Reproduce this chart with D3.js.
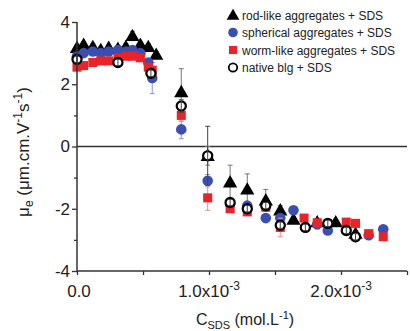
<!DOCTYPE html>
<html><head><meta charset="utf-8">
<script src="https://cdn.jsdelivr.net/npm/d3@7"></script>
<style>body{margin:0;background:#fff}svg{display:block}text{font-family:"Liberation Sans",Arial,sans-serif}</style>
</head><body><svg id="c" width="410" height="331"></svg>
<script>
// concentration in units of 1e-3 mol/L; [c, mu, err]
const rodLike = [[0,3.17,0.1],[0.05,3.27,0.1],[0.12,3.2,0.1],[0.18,3.1,0.1],[0.24,3.17,0.1],[0.31,3.14,0.1],[0.37,3.2,0.1],[0.42,3.55,0.15],[0.48,3.27,0.1],[0.54,3.2,0.1],[0.6,2.95,0.1],
  [0.79,1.75,0.75],[0.99,-0.3,0.3],[1.16,-1.15,0.55],[1.29,-1.38,0.5],[1.43,-1.73,0.35],[1.54,-2.05,0.15],[1.64,-2.35,0.1],[1.82,-2.43,0.1],[1.96,-2.43,0.1],[2.11,-2.8,0.1]];
const spherical = [[0,2.9,0.1],[0.05,3.0,0.1],[0.12,3.05,0.1],[0.18,3.0,0.1],[0.24,3.05,0.1],[0.31,3.1,0.1],[0.37,3.05,0.1],[0.42,3.1,0.1],[0.48,3.0,0.1],[0.54,2.7,0.1],[0.57,2.2,0.5],
  [0.79,0.55,0.3],[0.99,-1.1,0.2],[1.16,-1.85,0.1],[1.29,-1.9,0.1],[1.43,-2.3,0.1],[1.54,-2.3,0.1],[1.64,-2.05,0.1],[1.82,-2.5,0.15],[1.9,-2.7,0.1],[2.21,-2.85,0.1],[2.32,-2.66,0.1]];
const wormLike = [[0,2.55,0.1],[0.05,2.6,0.1],[0.12,2.7,0.1],[0.18,2.75,0.1],[0.24,2.75,0.1],[0.31,2.85,0.1],[0.37,2.9,0.1],[0.42,2.9,0.1],[0.48,2.85,0.1],[0.54,2.55,0.1],[0.57,2.45,0.1],
  [0.79,1.0,0.2],[0.99,-1.65,0.4],[1.16,-2.0,0.1],[1.29,-2.1,0.1],[1.43,-1.95,0.1],[1.54,-2.6,0.3],[1.72,-2.3,0.1],[1.82,-2.45,0.1],[2.04,-2.43,0.1],[2.11,-2.47,0.1],[2.21,-2.8,0.1],[2.32,-2.9,0.1]];
const nativeBlg = [[0,2.8,0.1],[0.31,2.7,0.1],[0.56,2.35,0.1],
  [0.79,1.3,0.2],[0.99,-0.3,0.95],[1.16,-1.8,0.1],[1.29,-2.0,0.1],[1.43,-1.9,0.1],[1.54,-2.53,0.1],[1.73,-2.6,0.1],[1.9,-2.47,0.1],[2.04,-2.7,0.1],[2.11,-2.9,0.1]];
const seriesNames = ["rod-like aggregates + SDS","spherical aggregates + SDS","worm-like aggregates + SDS","native blg + SDS"];
const yTicks = [-4,-2,0,2,4];
const xTicks = [0,1,2];

const svg = d3.select("#c");
const x = d3.scaleLinear().domain([0,2.5]).range([77,407]);
const y = d3.scaleLinear().domain([-4,4]).range([271,22]);
const axisCol = "#333";

const series = [
  {data:rodLike, shape:"tri", fill:"#000", stroke:"none", err:"#777"},
  {data:spherical, shape:"circ", fill:"#3a4fb0", stroke:"none", err:"#8a95d8"},
  {data:wormLike, shape:"sq", fill:"#e8232a", stroke:"none", err:"#f08a8a"},
  {data:nativeBlg, shape:"open", fill:"#fff", stroke:"#000", err:"#444"}
];
const sym = {tri:d3.symbol(d3.symbolTriangle,88)(), circ:d3.symbol(d3.symbolCircle,88)(), sq:d3.symbol(d3.symbolSquare,82)(), open:d3.symbol(d3.symbolCircle,66)()};
const legSym = {tri:d3.symbol(d3.symbolTriangle,70)(), circ:d3.symbol(d3.symbolCircle,72)(), sq:d3.symbol(d3.symbolSquare,66)(), open:d3.symbol(d3.symbolCircle,56)()};

// zero line
svg.append("line").attr("x1",x(0)).attr("x2",x(2.5)).attr("y1",y(0)).attr("y2",y(0)).attr("stroke",axisCol).attr("stroke-width",1.3);

function errBars(g, s){
  const eb = g.selectAll(null).data(s.data).enter().append("g").attr("stroke",s.err).attr("stroke-width",1);
  eb.append("line").attr("x1",d=>x(d[0])).attr("x2",d=>x(d[0])).attr("y1",d=>y(d[1]-d[2])).attr("y2",d=>y(d[1]+d[2]));
  eb.append("line").attr("x1",d=>x(d[0])-2.5).attr("x2",d=>x(d[0])+2.5).attr("y1",d=>y(d[1]-d[2])).attr("y2",d=>y(d[1]-d[2]));
  eb.append("line").attr("x1",d=>x(d[0])-2.5).attr("x2",d=>x(d[0])+2.5).attr("y1",d=>y(d[1]+d[2])).attr("y2",d=>y(d[1]+d[2]));
}
series.forEach(s=>{
  const g = svg.append("g");
  if (s.shape!=="open") errBars(g,s);
  g.selectAll("path").data(s.data).enter().append("path")
    .attr("d",sym[s.shape]).attr("transform",d=>`translate(${x(d[0])},${y(d[1])+(s.shape==="tri"?1:0)})`)
    .attr("fill",s.fill).attr("stroke",s.stroke).attr("stroke-width",s.shape==="open"?2.2:0);
  if (s.shape==="open") errBars(g,s);
});

// axes
const ya = svg.append("g").attr("transform",`translate(${x(0)},0)`)
  .call(d3.axisLeft(y).tickValues(d3.range(-4,4.01,1)).tickSize(5).tickFormat(d=>yTicks.includes(d)?d3.format("d")(d):""));
ya.selectAll(".tick line").attr("stroke",axisCol).attr("stroke-width",1.3).attr("x2",d=>yTicks.includes(d)?-5:-3);
ya.select(".domain").attr("stroke",axisCol).attr("stroke-width",1.5).attr("d",`M0,${y(4)}V${y(-4)}`);
ya.selectAll(".tick text").attr("font-size",17).attr("fill","#222").attr("x",-7).attr("font-family","Liberation Sans, Arial, sans-serif").text(d=>yTicks.includes(d)?(d<0?"-"+(-d):d):"");

const xa = svg.append("g").attr("transform",`translate(0,${y(-4)})`)
  .call(d3.axisBottom(x).tickValues(d3.range(0,2.51,0.5)).tickSize(4).tickFormat(""));
xa.selectAll(".tick line").attr("stroke",axisCol).attr("stroke-width",1.3);
xa.select(".domain").attr("stroke",axisCol).attr("stroke-width",1.5).attr("d",`M${x(0)},0H${x(2.5)}`);
xTicks.forEach(v=>{
  const t = svg.append("text").attr("x",x(v)+(v===0?2:0)).attr("y",297).attr("text-anchor","middle").attr("font-size",17).attr("fill","#222");
  if (v===0) t.text("0.0");
  else { t.append("tspan").text(v.toFixed(1)+"x10"); t.append("tspan").attr("dy",-7).attr("font-size",12).text("-3"); }
});

// axis titles
const xt = svg.append("text").attr("x",245).attr("y",325).attr("text-anchor","middle").attr("font-size",16).attr("fill","#222");
xt.append("tspan").text("C");
xt.append("tspan").attr("dy",4).attr("font-size",11).text("SDS");
xt.append("tspan").attr("dy",-4).text(" (mol.L");
xt.append("tspan").attr("dy",-6).attr("font-size",11).text("-1");
xt.append("tspan").attr("dy",6).text(")");

const yt = svg.append("text").attr("transform","translate(29,152) rotate(-90)").attr("text-anchor","middle").attr("font-size",17).attr("fill","#222");
yt.append("tspan").text("μ");
yt.append("tspan").attr("dy",4).attr("font-size",12).text("e");
yt.append("tspan").attr("dy",-4).text(" (μm.cm.V");
yt.append("tspan").attr("dy",-7).attr("font-size",12).text("-1");
yt.append("tspan").attr("dy",7).text("s");
yt.append("tspan").attr("dy",-7).attr("font-size",12).text("-1");
yt.append("tspan").attr("dy",7).text(")");

// legend
const lg = svg.append("g");
seriesNames.forEach((n,i)=>{
  const s = series[i], yy = 15 + i*17.5;
  lg.append("path").attr("d",legSym[s.shape]).attr("transform",`translate(233,${yy+(s.shape==="tri"?1:0)})`)
    .attr("fill",s.fill).attr("stroke",s.stroke).attr("stroke-width",s.shape==="open"?1.8:0);
  lg.append("text").attr("x",242).attr("y",yy+4.5).attr("font-size",12).attr("fill","#222").text(n);
});
</script></body></html>
